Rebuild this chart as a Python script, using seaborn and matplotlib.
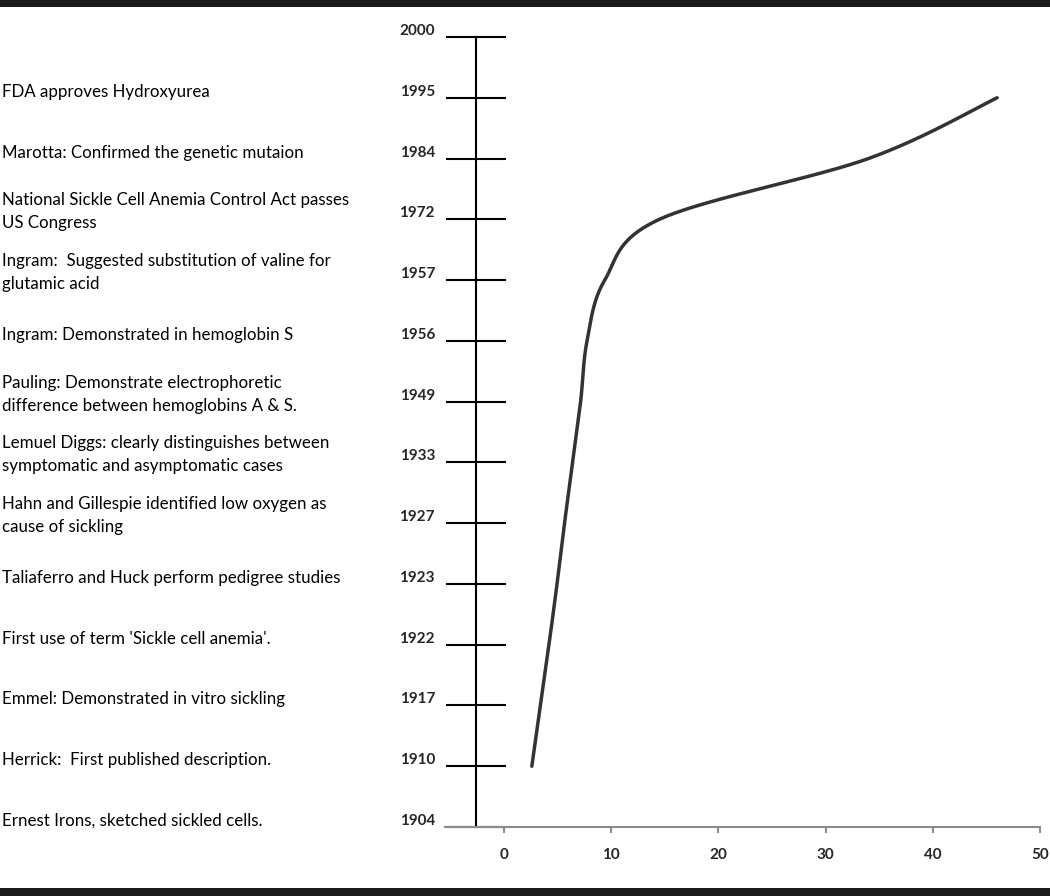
import numpy as np
import pandas as pd
import matplotlib.pyplot as plt
import matplotlib.transforms as mtransforms
from matplotlib.patches import Rectangle
import seaborn as sns

# Data
years = ["1904", "1910", "1917", "1922", "1923", "1927", "1933",
         "1949", "1956", "1957", "1972", "1984", "1995", "2000"]
events = [
    "Ernest Irons, sketched sickled cells.",
    "Herrick:  First published description.",
    "Emmel: Demonstrated in vitro sickling",
    "First use of term 'Sickle cell anemia'.",
    "Taliaferro and Huck perform pedigree studies",
    "Hahn and Gillespie identified low oxygen as\ncause of sickling",
    "Lemuel Diggs: clearly distinguishes between\nsymptomatic and asymptomatic cases",
    "Pauling: Demonstrate electrophoretic\ndifference between hemoglobins A & S.",
    "Ingram: Demonstrated in hemoglobin S",
    "Ingram:  Suggested substitution of valine for\nglutamic acid",
    "National Sickle Cell Anemia Control Act passes\nUS Congress",
    "Marotta: Confirmed the genetic mutaion",
    "FDA approves Hydroxyurea",
    "",
]
curve_years = ["1910", "1917", "1922", "1923", "1927", "1933",
               "1949", "1956", "1957", "1972", "1984", "1995"]
curve_values = [2.6, 3.4, 4.2, 4.95, 5.65, 6.4, 7.15, 7.75, 9.4, 14.5, 34.0, 46.0]
x_ticks = [0, 10, 20, 30, 40, 50]


def smooth(xs, ys, yscale, n=40):
    # Catmull-Rom style smoothing (as in a smoothed spreadsheet line)
    p = np.column_stack([xs, np.asarray(ys) * yscale])
    p = np.vstack([p[0], p, p[-1]])
    out = []
    for i in range(1, len(p) - 2):
        p0, p1, p2, p3 = p[i - 1], p[i], p[i + 1], p[i + 2]
        c1 = p1 + (p2 - p0) / 6
        c2 = p2 - (p3 - p1) / 6
        t = np.linspace(0, 1, n)[:, None]
        seg = ((1 - t) ** 3) * p1 + 3 * ((1 - t) ** 2) * t * c1 + 3 * (1 - t) * t ** 2 * c2 + t ** 3 * p2
        out.append(seg if i == 1 else seg[1:])
    out = np.vstack(out)
    return out[:, 0], out[:, 1] / yscale


sns.set_style("white")
plt.rcParams["font.family"] = ["Lato", "DejaVu Sans"]

fig = plt.figure(figsize=(10.5, 8.96), dpi=100)
ax = fig.add_axes([445 / 1050, 69 / 896, 595 / 1050, 790 / 896])

rows = [years.index(y) for y in curve_years]
sx, sy = smooth(curve_values, rows, 60.77 / 10.72)
df = pd.DataFrame({"value": sx, "row": sy})
sns.lineplot(data=df, x="value", y="row", sort=False, color="#333333", lw=2.5, ax=ax)

ax.set_xlim(-5.5, 50)
ax.set_ylim(0, 13)
ax.set_xlabel("")
ax.set_ylabel("")

for s in ["top", "right"]:
    ax.spines[s].set_visible(False)
ax.spines["left"].set_position(("data", -2.65))
ax.spines["left"].set_color("black")
ax.spines["left"].set_linewidth(1.5)
ax.spines["bottom"].set_color("#8c8c8c")
ax.spines["bottom"].set_linewidth(1.5)

ax.set_yticks(range(len(years)))
ax.set_yticklabels(years)
ax.tick_params(axis="y", left=True, direction="inout", length=42.5, width=1.5,
               color="black", pad=8, labelsize=11)
ax.set_xticks(x_ticks)
ax.tick_params(axis="x", bottom=True, direction="out", length=4, width=1.5,
               color="#8c8c8c", pad=11, labelsize=11)

up = mtransforms.ScaledTranslation(0, 0.075, fig.dpi_scale_trans)
for lab in ax.get_yticklabels():
    lab.set_transform(lab.get_transform() + up)
    lab.set_fontweight("bold")
for lab in ax.get_xticklabels():
    lab.set_fontweight("bold")

# event descriptions on the left
trans = mtransforms.blended_transform_factory(fig.transFigure, ax.transData) + up
for i, txt in enumerate(events):
    if txt:
        ax.text(2 / 1050, i, txt, transform=trans, ha="left",
                va="center" if "\n" in txt else "center_baseline",
                fontsize=12.2, linespacing=1.55, color="black")

# black bands at top and bottom
fig.add_artist(Rectangle((0, 1 - 7 / 896), 1, 7 / 896, transform=fig.transFigure,
                         color="#1a1a1a", lw=0))
fig.add_artist(Rectangle((0, 0), 1, 8 / 896, transform=fig.transFigure,
                         color="#1a1a1a", lw=0))

fig.savefig("out.png", dpi=100)
